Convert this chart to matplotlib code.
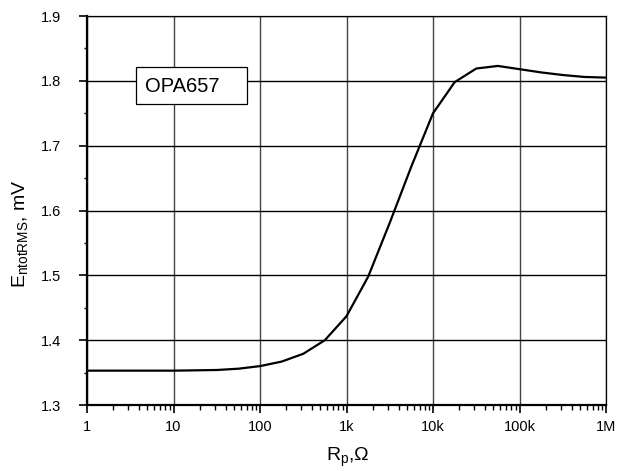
import matplotlib
matplotlib.use("Agg")
import matplotlib.pyplot as plt
from matplotlib.patches import Rectangle
from matplotlib.ticker import FixedLocator, NullFormatter

# --- DATA ---
rp_ohm = [1, 1.78, 3.16, 5.62, 10, 17.8, 31.6, 56.2, 100, 178, 316, 562,
          1000, 1780, 3160, 5620, 10000, 17800, 31600, 56200,
          100000, 178000, 316000, 562000, 1000000]
e_rms_mv = [1.353, 1.353, 1.353, 1.353, 1.353, 1.3535, 1.354, 1.356, 1.360, 1.367, 1.379, 1.400,
            1.437, 1.498, 1.581, 1.668, 1.750, 1.798, 1.819, 1.823,
            1.818, 1.813, 1.809, 1.806, 1.805]
x_ticks = [1, 10, 100, 1000, 10000, 100000, 1000000]
x_tick_labels = ["1", "10", "100", "1k", "10k", "100k", "1M"]
y_ticks = [1.3, 1.4, 1.5, 1.6, 1.7, 1.8, 1.9]
y_minor = [1.35, 1.45, 1.55, 1.65, 1.75, 1.85]

plt.rcParams["font.family"] = ["Liberation Sans", "DejaVu Sans"]
plt.rcParams["mathtext.fontset"] = "custom"
plt.rcParams["mathtext.rm"] = "Liberation Sans"

fig = plt.figure(figsize=(6.22, 4.71), dpi=100)
ax = fig.add_axes([0.1399, 0.1401, 0.8344, 0.8259])

ax.plot(rp_ohm, e_rms_mv, color="black", lw=1.6, zorder=4)

ax.set_xscale("log")
ax.set_xlim(1, 1e6)
ax.set_ylim(1.3, 1.9)

# --- TICKS ---
ax.xaxis.set_major_locator(FixedLocator(x_ticks))
ax.set_xticklabels(x_tick_labels)
minor_x = [m * d for d in x_ticks[:-1] for m in range(2, 10)]
ax.xaxis.set_minor_locator(FixedLocator(minor_x))
ax.xaxis.set_minor_formatter(NullFormatter())
ax.set_yticks(y_ticks)
ax.set_yticklabels([f"{v:.1f}" for v in y_ticks])
ax.yaxis.set_minor_locator(FixedLocator(y_minor))

ax.tick_params(axis="both", which="major", direction="out", length=6, width=1.2,
               labelsize=10.5, color="black")
ax.tick_params(axis="x", which="major", pad=4.5)
ax.tick_params(axis="y", which="major", pad=13)
ax.tick_params(axis="x", which="minor", direction="out", length=3.5, width=1.0)
ax.tick_params(axis="y", which="minor", direction="out", length=2.5, width=1.0)

# --- GRID ---
ax.xaxis.grid(True, which="major", color="#444444", lw=1.0, zorder=1)
ax.yaxis.grid(True, which="major", color="black", lw=1.0, zorder=1)
ax.set_axisbelow(True)

# --- SPINES ---
for side in ["left", "bottom"]:
    ax.spines[side].set_linewidth(1.6)
for side in ["top", "right"]:
    ax.spines[side].set_linewidth(0.9)

# --- LABEL BOX ---
ax.add_patch(Rectangle((0.0938, 0.7738), 0.2139, 0.0951, transform=ax.transAxes,
                       facecolor="white", edgecolor="black", lw=0.9, zorder=3))
ax.text(0.1118, 0.8054, "OPA657", transform=ax.transAxes, ha="left", va="baseline",
        fontsize=14.5, zorder=5)

# --- AXIS TITLES ---
fig.text(21 / 622, 1 - 234 / 471, r"E$_{\mathrm{ntotRMS}}$, mV", rotation=90,
         ha="center", va="center", fontsize=14)
fig.text(348 / 622, 1 - 457 / 471, r"R$_{\mathrm{p}}$,Ω", ha="center", va="center",
         fontsize=14)

fig.savefig("out.png", dpi=100)
